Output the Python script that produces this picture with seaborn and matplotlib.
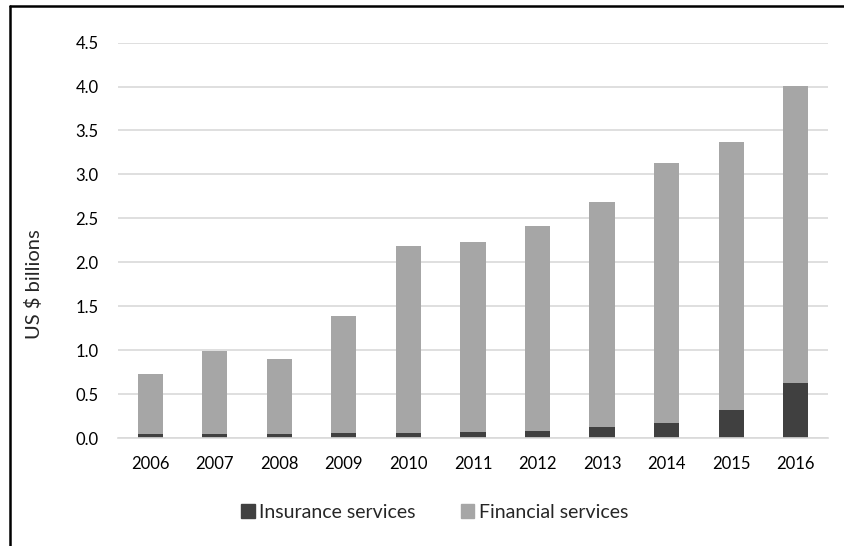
import matplotlib
matplotlib.use("Agg")
import matplotlib.pyplot as plt
from matplotlib.lines import Line2D
from matplotlib.patches import Patch
import seaborn as sns
import pandas as pd

years = ["2006", "2007", "2008", "2009", "2010", "2011", "2012", "2013", "2014", "2015", "2016"]
insurance = [0.04, 0.045, 0.05, 0.06, 0.06, 0.07, 0.08, 0.13, 0.17, 0.32, 0.63]
financial = [0.685, 0.945, 0.85, 1.33, 2.12, 2.16, 2.33, 2.56, 2.96, 3.05, 3.38]

df = pd.DataFrame({"year": years, "Insurance services": insurance, "Financial services": financial})

sns.set_theme(style="white")
plt.rcParams["font.family"] = ["Lato", "DejaVu Sans"]

dark = "#404040"
light = "#a6a6a6"
grid = "#d9d9d9"

fig = plt.figure(figsize=(8.44, 5.46), dpi=100)
ax = fig.add_axes([0.1398, 0.1978, 0.8412, 0.7242])

sns.barplot(data=df, x="year", y="Insurance services", color=dark, width=0.39,
            saturation=1, ax=ax, edgecolor="none")
sns.barplot(data=df, x="year", y="Financial services", color=light, width=0.39,
            saturation=1, ax=ax, bottom=df["Insurance services"], edgecolor="none")

ax.set_xlim(-0.5, len(years) - 0.5)
ax.set_ylim(0, 4.5)
ax.set_yticks([i * 0.5 for i in range(10)])
ax.set_yticklabels([f"{i * 0.5:.1f}" for i in range(10)])
ax.yaxis.grid(True, color=grid, linewidth=1.2)
ax.set_axisbelow(True)
for side in ["top", "right", "left"]:
    ax.spines[side].set_visible(False)
ax.spines["bottom"].set_color(grid)
ax.spines["bottom"].set_linewidth(1.2)
ax.tick_params(axis="both", length=0, labelsize=12, colors="#000000")
ax.tick_params(axis="x", pad=13)
ax.tick_params(axis="y", pad=14)
ax.set_xlabel("")
ax.set_ylabel("US $ billions", fontsize=14.5)
ax.yaxis.set_label_coords(-0.105, 0.39)

handles = [Patch(color=dark, label="Insurance services"),
           Patch(color=light, label="Financial services")]
fig.legend(handles=handles, loc="center", bbox_to_anchor=(0.515, 0.062), ncol=2,
           frameon=False, fontsize=14, handlelength=0.7, handleheight=0.7,
           handletextpad=0.25, columnspacing=2.3)

# outer frame: top and left edges
fig.add_artist(Line2D([10 / 844, 1.0], [1 - 6 / 546, 1 - 6 / 546], color="black", linewidth=1.8,
                      transform=fig.transFigure))
fig.add_artist(Line2D([10 / 844, 10 / 844], [0.0, 1 - 6 / 546], color="black", linewidth=1.8,
                      transform=fig.transFigure))

fig.savefig("out.png", dpi=100, facecolor="white")
